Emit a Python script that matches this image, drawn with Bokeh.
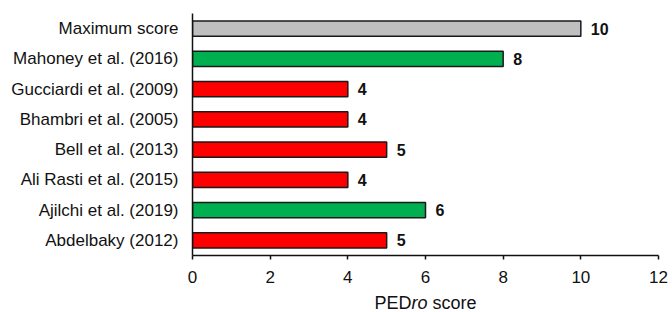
from bokeh.plotting import figure
from bokeh.layouts import column
from bokeh.models import ColumnDataSource, FactorRange, Range1d, FixedTicker
from bokeh.core.properties import value
from bokeh.embed import file_html
from bokeh.resources import INLINE

studies = ["Maximum score", "Mahoney et al. (2016)", "Gucciardi et al. (2009)",
           "Bhambri et al. (2005)", "Bell et al. (2013)", "Ali Rasti et al. (2015)",
           "Ajilchi et al. (2019)", "Abdelbaky (2012)"]
scores = [10, 8, 4, 4, 5, 4, 6, 5]
bar_colors = ["#BFBFBF", "#00B050", "#FF0000", "#FF0000", "#FF0000", "#FF0000",
              "#00B050", "#FF0000"]
x_ticks = [0, 2, 4, 6, 8, 10, 12]
x_title_parts = ["PED", "ro", "score"]
x_title_styles = ["normal", "italic", "normal"]

FONT = "Liberation Sans"

src = ColumnDataSource(dict(study=studies, score=scores, color=bar_colors,
                            lbl=[str(s) for s in scores]))

p = figure(frame_width=466, frame_height=242, output_backend="svg", toolbar_location=None,
           y_range=FactorRange(factors=list(reversed(studies))),
           x_range=Range1d(0, 12),
           min_border_left=192, min_border_right=14, min_border_top=13, min_border_bottom=35)

p.hbar(y="study", right="score", left=0, height=0.5, source=src,
       fill_color="color", line_color="#1a1a1a", line_width=1.5)

p.text(x="score", y="study", text="lbl", source=src, x_offset=10,
       text_baseline="middle", text_align="left",
       text_font=value(FONT), text_font_style="bold", text_font_size="16px",
       text_color="#111111")

p.outline_line_color = None
p.xgrid.grid_line_color = None
p.ygrid.grid_line_color = None

xa = p.xaxis[0]
xa.ticker = FixedTicker(ticks=x_ticks)
xa.minor_tick_line_color = None
xa.major_tick_in = 0
xa.major_tick_out = 4
xa.major_tick_line_width = 1.5
xa.axis_line_width = 1.5
xa.axis_line_color = "#111111"
xa.major_tick_line_color = "#111111"
xa.major_label_text_font = FONT
xa.major_label_text_font_size = "17px"
xa.major_label_text_color = "#111111"
xa.major_label_standoff = 11

ya = p.yaxis[0]
ya.major_tick_line_color = None
ya.minor_tick_line_color = None
ya.major_tick_out = 0
ya.major_tick_in = 0
ya.axis_line_width = 1.5
ya.axis_line_color = "#111111"
ya.major_label_text_font = FONT
ya.major_label_text_font_size = "17px"
ya.major_label_text_color = "#111111"
ya.major_label_standoff = 14

# axis title strip (mixed upright / italic text)
p2 = figure(frame_width=466, frame_height=22, output_backend="svg", toolbar_location=None,
            x_range=p.x_range, y_range=Range1d(0, 1),
            min_border_left=192, min_border_right=14, min_border_top=0, min_border_bottom=0)
p2.axis.visible = False
p2.xgrid.grid_line_color = None
p2.ygrid.grid_line_color = None
p2.outline_line_color = None

offsets = [-51, -14, 7]
for txt, style, off in zip(x_title_parts, x_title_styles, offsets):
    p2.text(x=[6], y=[0.41], text=[txt], x_offset=off, text_align="left",
            text_baseline="alphabetic", text_font=value(FONT), text_font_size="18px",
            text_font_style=style, text_color="#111111")

layout = column(p, p2, spacing=0)
open("out.html", "w").write(file_html(layout, INLINE))
